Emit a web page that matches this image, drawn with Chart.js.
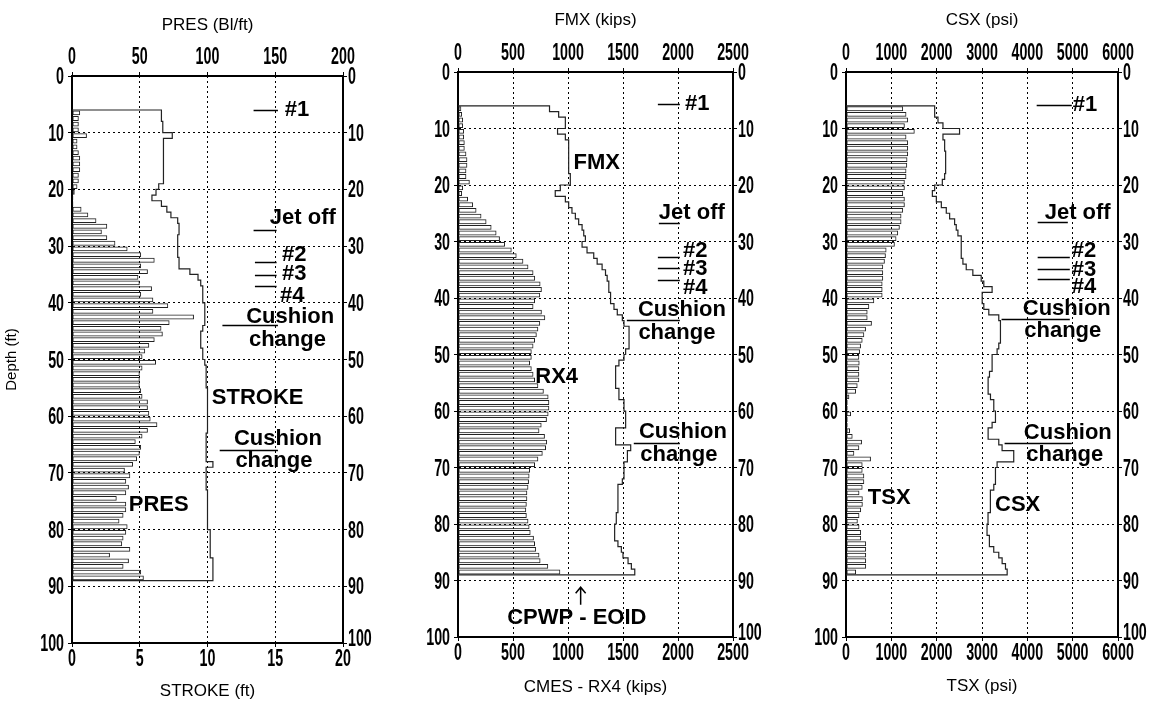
<!DOCTYPE html>
<html>
<head>
<meta charset="utf-8">
<script src="https://cdn.jsdelivr.net/npm/chart.js@4.4.0/dist/chart.umd.min.js"></script>
<style>
body { margin: 0; background: #fff; width: 1153px; height: 702px; overflow: hidden; position: relative; }
canvas { position: absolute; top: 0; }
</style>
</head>
<body>
<canvas id="c1" width="400" height="702" style="left:0px"></canvas>
<canvas id="c2" width="385" height="702" style="left:400px"></canvas>
<canvas id="c3" width="368" height="702" style="left:785px"></canvas>
<script>
// depth (ft) of the top of each 1 ft blow-count interval
const barDepths = [6,7,8,9,10,11,12,13,14,15,16,17,18,19,20,21,22,23,24,25,26,27,28,29,30,31,32,33,34,35,36,37,38,39,40,41,42,43,44,45,46,47,48,49,50,51,52,53,54,55,56,57,58,59,60,61,62,63,64,65,66,67,68,69,70,71,72,73,74,75,76,77,78,79,80,81,82,83,84,85,86,87,88]
const endDepth = 89

// PRES (Bl/ft)
const pres = [6,5,5,5,11,4,4,5,6,6,6,5,5,4,
  2,1,1,7,12,18,26,22,26,32,
  41,51,61,51,56,49,50,59,51,60,
  71,60,90,72,66,67,61,57,54,52,
  62,52,50,50,50,51,52,56,56,57,
  58,63,56,52,47,51,50,48,45,39,
  43,40,42,40,33,40,40,38,35,41,
  40,38,37,43,28,42,38,51,53]
// CMES - RX4 (kips)
const rx4 = [30,37,46,46,55,55,61,61,76,85,85,76,76,107,
  46,37,91,137,168,213,259,305,350,381,
  427,488,533,594,640,686,701,750,762,747,
  700,686,762,793,747,730,716,700,686,670,
  670,655,670,686,700,730,780,823,830,830,
  823,808,760,740,790,810,800,770,730,700,
  655,650,645,640,630,630,625,620,625,640,
  650,660,690,700,710,740,750,820,930]
// TSX (psi)
const tsx = [1260,1333,1370,1297,1516,1333,1370,1370,1370,1355,1350,1333,1333,1297,
  1297,1260,1297,1297,1260,1223,1223,1187,1150,1113,
  1077,894,879,857,820,820,820,806,806,806,
  623,513,476,476,571,440,403,366,330,308,
  293,300,293,293,293,256,220,73,37,37,
  110,37,37,88,146,352,293,183,550,366,
  366,403,403,366,296,370,370,333,296,260,
  296,333,333,444,444,444,444,444,222]

// STROKE (ft): depth where each step starts, value
const strokeDepths = [6,8,10,11,19,20,21,22,23,24,25,26,28,32,34,35,36,37,40,44,45,48,50,51,55,63,68,69,73,80,85]
const strokeVals = [6.6,6.7,7.4,6.75,6.4,6.2,5.9,6.6,7.0,7.3,7.8,7.9,7.8,7.9,8.7,9.3,9.5,9.65,9.8,9.65,9.5,9.65,9.8,9.9,10.0,9.9,10.4,9.9,10.0,10.2,10.4]
// FMX (kips)
const fmxDepths = [6,7,8,10,11,12,18,20,21,22,23,24,25,26,27,28,29,30,31,32,33,34,35,36,37,39,41,42,43,44,45,49,50,51,52,56,58,60,63,66,67,69,72,73,78,80,83,84,85,86,87,88]
const fmxVals = [832,915,976,905,976,1006,1021,930,884,976,1006,1036,1067,1097,1128,1143,1158,1128,1173,1234,1265,1310,1341,1356,1371,1387,1418,1448,1494,1509,1555,1524,1509,1463,1433,1463,1509,1524,1433,1570,1540,1509,1494,1454,1439,1424,1454,1485,1500,1546,1576,1607]
// CSX (psi)
const csxDepths = [6,8,9,10,11,12,14,18,19,20,21,22,23,24,25,26,27,28,29,33,34,35,36,37,38,39,41,42,43,44,48,49,50,53,54,57,58,60,62,63,65,66,67,69,70,73,74,78,80,82,84,85,86,87,88]
const csxVals = [1956,2029,2139,2505,2139,2176,2198,2176,2125,1956,1905,1993,2103,2212,2286,2396,2432,2469,2542,2579,2652,2798,2982,3040,3223,3004,3040,3150,3370,3407,3370,3333,3223,3165,3135,3187,3260,3297,3223,3135,3370,3443,3700,3333,3297,3260,3185,3133,3111,3163,3259,3370,3444,3518,3555]

// notes: [x1, x2, depth] lines and [text, x, depth, align] labels, x in bottom-axis units
const notes1 = {
  lines: [[13.4,15.2,6.0],[13.4,15.1,27.2],[13.5,15.1,32.8],[13.5,15.1,35.1],[13.5,15.1,37.0],[11.1,15.2,43.9],[10.9,15.2,66.0]],
  texts: [['#1',15.7,6.0,'left'],['Jet off',14.6,25.0,'left'],['#2',15.5,31.6,'left'],['#3',15.5,34.9,'left'],['#4',15.35,38.8,'left'],
    ['Cushion',16.1,42.5,'center'],['change',15.9,46.6,'center'],['STROKE',13.7,56.8,'center'],
    ['Cushion',15.2,64.0,'center'],['change',14.9,67.9,'center'],['PRES',6.4,75.7,'center']]
}
const notes2 = {
  lines: [[1817,2017,5.7],[1826,2017,26.7],[1817,2017,32.7],[1817,2017,34.7],[1817,2017,36.8],[1535,2017,43.9],[1598,2017,65.7]],
  texts: [['#1',2063,5.7,'left'],['FMX',1261,16.1,'center'],['Jet off',1826,25.0,'left'],['#2',2045,31.7,'left'],['#3',2045,34.9,'left'],['#4',2045,38.2,'left'],
    ['Cushion',2036,42.1,'center'],['change',1990,46.2,'center'],['RX4',897,54.0,'center'],
    ['Cushion',2045,63.7,'center'],['change',2008,67.8,'center'],['CPWP - EOID',1080,96.6,'center']],
  arrow: [1115,94.3,91.2]
}
const notes3 = {
  lines: [[4206,4981,5.9],[4228,4893,26.6],[4228,4937,32.8],[4228,4937,34.8],[4228,4937,36.7],[3431,4937,43.8],[3498,4981,65.6]],
  texts: [['#1',5003,5.9,'left'],['Jet off',4383,24.9,'left'],['#2',4981,31.6,'left'],['#3',4981,35.0,'left'],['#4',4981,38.1,'left'],
    ['Cushion',4870,42.0,'center'],['change',4782,45.9,'center'],
    ['Cushion',4893,63.8,'center'],['change',4826,67.7,'center'],['TSX',952,75.3,'center'],['CSX',3786,76.6,'center']]
}

const hiddenTick = { family: "'Liberation Sans',sans-serif", size: 12, weight: 'bold', lineHeight: 1 }
const titleFont = { family: "'Liberation Sans',Arial,sans-serif", size: 17 }
const noteFont = 'bold 22px "Liberation Sans", Arial, sans-serif'
const tickCss = 'bold 23px "Liberation Sans", Arial, sans-serif'

function stepPoints(depths, vals){
    const pts = [{x: 0, y: depths[0]}]
    depths.forEach((d, i) => pts.push({x: vals[i], y: d}))
    pts.push({x: vals[vals.length - 1], y: endDepth})
    pts.push({x: 0, y: endDepth})
    return pts
}

// condensed bold tick numbers, drawn squeezed like the original plot
const narrowTicks = {
    id: 'narrowTicks',
    afterDraw(chart){
        const ctx = chart.ctx
        const area = chart.chartArea
        ctx.save()
        ctx.fillStyle = '#000'
        ctx.font = tickCss
        ctx.textBaseline = 'alphabetic'
        Object.values(chart.scales).forEach(s => {
            s.ticks.forEach(t => {
                const p = s.getPixelForValue(t.value)
                let x, y, align
                if (s.position === 'top') { x = p; y = area.top - 12; align = 'center' }
                else if (s.position === 'bottom') { x = p; y = area.bottom + 23; align = 'center' }
                else if (s.position === 'left') { x = area.left - 8; y = p + 8; align = 'right' }
                else { x = area.right + 5; y = p + 8 - (t.value === 100 ? 5 : 0); align = 'left' }
                ctx.save()
                ctx.translate(x, y)
                ctx.scale(0.62, 1)
                ctx.textAlign = align
                ctx.fillText(String(t.value), 0, 0)
                ctx.restore()
            })
        })
        ctx.restore()
    }
}

function notesPlugin(notes){
    return {
        id: 'notes',
        afterDatasetsDraw(chart){
            const ctx = chart.ctx
            const sx = chart.scales.xBot
            const sy = chart.scales.y
            ctx.save()
            ctx.strokeStyle = '#000'
            ctx.lineWidth = 1.5
            notes.lines.forEach(([x1, x2, d]) => {
                const y = Math.round(sy.getPixelForValue(d)) + 0.5
                ctx.beginPath()
                ctx.moveTo(sx.getPixelForValue(x1), y)
                ctx.lineTo(sx.getPixelForValue(x2), y)
                ctx.stroke()
            })
            if (notes.arrow) {
                const [ax, d1, d2] = notes.arrow
                const x = sx.getPixelForValue(ax), y1 = sy.getPixelForValue(d1), y2 = sy.getPixelForValue(d2)
                ctx.beginPath()
                ctx.moveTo(x, y1); ctx.lineTo(x, y2)
                ctx.moveTo(x - 5, y2 + 6); ctx.lineTo(x, y2); ctx.lineTo(x + 5, y2 + 6)
                ctx.stroke()
            }
            ctx.fillStyle = '#000'
            ctx.font = noteFont
            ctx.textBaseline = 'middle'
            notes.texts.forEach(([t, x, d, align]) => {
                ctx.textAlign = align
                ctx.fillText(t, sx.getPixelForValue(x), sy.getPixelForValue(d))
            })
            ctx.restore()
        }
    }
}

function xAxis(p, pos){
    const a = p[pos]
    const main = pos === 'bot'
    return {
        type: 'linear', position: main ? 'bottom' : 'top',
        min: 0, max: a.max, offset: false,
        ticks: { stepSize: a.step, autoSkip: false, color: 'rgba(0,0,0,0)', font: hiddenTick, padding: 4, maxRotation: 0, format: { useGrouping: false } },
        grid: { color: '#000', lineWidth: 1, drawOnChartArea: main, drawTicks: true, tickLength: 4, tickColor: '#000', offset: false },
        border: { display: true, color: '#000', width: 2, dash: [2, 3] },
        title: { display: true, text: a.title, color: '#000', font: titleFont, padding: main ? {top: 0, bottom: a.tpad} : {top: a.tpad, bottom: 0} },
        afterFit: s => { s.height = a.h }
    }
}

function yAxis(p, side){
    const left = side === 'left'
    return {
        type: 'linear', position: side, reverse: true,
        min: 0, max: 100, offset: false,
        ticks: { stepSize: 10, autoSkip: false, color: 'rgba(0,0,0,0)', font: hiddenTick, padding: 4 },
        grid: { color: '#000', lineWidth: 1, drawOnChartArea: left, drawTicks: true, tickLength: 4, tickColor: '#000', offset: false },
        border: { display: true, color: '#000', width: 2, dash: [2, 3] },
        title: { display: left && !!p.depthTitle, text: 'Depth (ft)', color: '#000', font: { family: "'Liberation Sans',Arial,sans-serif", size: 15 }, padding: { top: 3, bottom: 0 } },
        afterFit: s => { s.width = left ? p.leftW : p.rightW }
    }
}

function buildPanel(id, p){
    const bars = barDepths.map((d, i) => ({ x: p.bars[i], y: d + 0.5 }))
    new Chart(document.getElementById(id), {
        type: 'bar',
        data: {
            datasets: [{
                type: 'line',
                label: p.lineLabel,
                data: stepPoints(p.lineDepths, p.lineVals),
                indexAxis: 'y',
                xAxisID: p.lineAxis, yAxisID: 'y',
                stepped: 'after',
                borderColor: '#222', borderWidth: 1.2,
                pointRadius: 0, fill: false, tension: 0
            }, {
                type: 'bar',
                label: p.barLabel,
                data: bars,
                indexAxis: 'y',
                xAxisID: p.barAxis, yAxisID: 'y',
                backgroundColor: 'rgba(0,0,0,0)',
                borderColor: '#222', borderWidth: 1, borderSkipped: false,
                barPercentage: 0.85, categoryPercentage: 1
            }]
        },
        options: {
            indexAxis: 'y',
            responsive: false,
            animation: false,
            events: [],
            layout: { padding: 0 },
            plugins: { legend: { display: false }, tooltip: { enabled: false } },
            scales: {
                xTop: xAxis(p, 'top'),
                xBot: xAxis(p, 'bot'),
                y: yAxis(p, 'left'),
                y2: yAxis(p, 'right')
            }
        },
        plugins: [notesPlugin(p.notes), narrowTicks]
    })
}

buildPanel('c1', {
    top: { max: 200, step: 50, title: 'PRES (Bl/ft)', h: 76, tpad: 15 },
    bot: { max: 20, step: 5, title: 'STROKE (ft)', h: 59, tpad: 0 },
    leftW: 72, rightW: 57, depthTitle: true,
    bars: pres, barAxis: 'xTop', barLabel: 'PRES',
    lineDepths: strokeDepths, lineVals: strokeVals, lineAxis: 'xBot', lineLabel: 'STROKE',
    notes: notes1
})
buildPanel('c2', {
    top: { max: 2500, step: 500, title: 'FMX (kips)', h: 72, tpad: 10 },
    bot: { max: 2500, step: 500, title: 'CMES - RX4 (kips)', h: 65, tpad: 4 },
    leftW: 58, rightW: 52,
    bars: rx4, barAxis: 'xBot', barLabel: 'RX4',
    lineDepths: fmxDepths, lineVals: fmxVals, lineAxis: 'xTop', lineLabel: 'FMX',
    notes: notes2
})
buildPanel('c3', {
    top: { max: 6000, step: 1000, title: 'CSX (psi)', h: 72, tpad: 10 },
    bot: { max: 6000, step: 1000, title: 'TSX (psi)', h: 65, tpad: 5 },
    leftW: 61, rightW: 35,
    bars: tsx, barAxis: 'xBot', barLabel: 'TSX',
    lineDepths: csxDepths, lineVals: csxVals, lineAxis: 'xTop', lineLabel: 'CSX',
    notes: notes3
})
</script>
</body>
</html>
